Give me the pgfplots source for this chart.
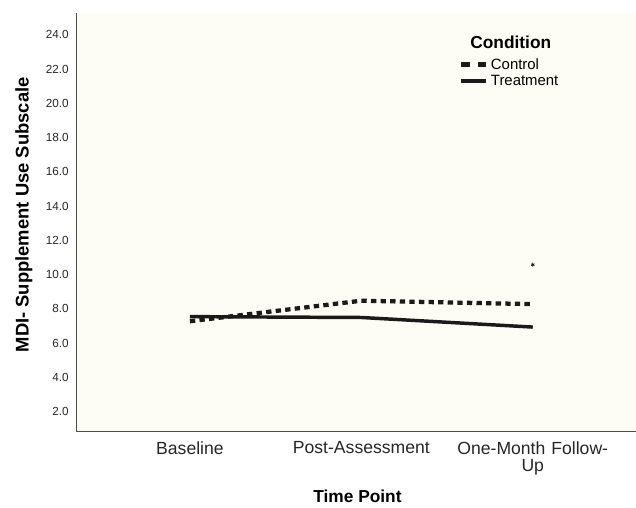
\documentclass[border=0pt]{standalone}
\usepackage{pgfplots}
\pgfplotsset{compat=1.18}
\usepackage{fontspec}
\setmainfont{Liberation Sans}
\definecolor{bgcream}{HTML}{FDFDF5}
\definecolor{ln}{HTML}{1A1A1A}
\begin{document}
\begin{tikzpicture}[x=1pt,y=1pt]
\begin{axis}[
  scale only axis,
  width=420pt, height=314.25pt,
  xmin=-0.665, xmax=2.6,
  ymin=0.83, ymax=25.28,
  axis lines*=left,
  axis line style={draw=black!70, line width=0.6pt},
  axis background/.style={fill=bgcream},
  xtick={0,1,2},
  xticklabels={\vphantom{Ag}Baseline, \vphantom{Ag}Post-Assessment, {\vphantom{Ag}One-Month\hspace{4.5pt}Follow-\\Up}},
  xticklabel style={align=center, anchor=north, font=\fontsize{13.2}{10.8}\selectfont, text=black!85, yshift=-4pt},
  ytick={2,4,...,24},
  yticklabel style={font=\fontsize{8.8}{9}\selectfont, text=black!85, xshift=-2pt},
  /pgf/number format/assume math mode=true,
  yticklabel={\pgfmathprintnumber[fixed,fixed zerofill,precision=1]{\tick}},
  major tick length=0pt,
  tick style={draw=none},
  xlabel={\textbf{Time Point}},
  ylabel={\textbf{MDI- Supplement Use Subscale}},
  every axis x label/.style={at={(rel axis cs:0.503,0)}, anchor=center, yshift=-48.75pt, font=\fontsize{13}{14}\selectfont},
  every axis y label/.style={at={(rel axis cs:0,0.518)}, anchor=center, rotate=90, yshift=39pt, font=\fontsize{13.8}{15}\selectfont},
  clip=false,
  legend style={draw=none, fill=none, at={(rel axis cs:0.684,0.899)}, anchor=north west,
    font=\fontsize{11.2}{11}\selectfont, row sep=-1.2pt, inner sep=0pt,
    /tikz/every odd column/.style={inner sep=0pt}},
  legend cell align=left,
  legend image code/.code={\draw[#1] (0pt,0pt) -- (18.75pt,0pt);},
]
\coordinate (sw) at (rel axis cs:0,0);
\coordinate (ne) at (rel axis cs:1,1);
\addplot[ln, line width=3.2pt, dash pattern=on 4pt off 3.2pt, legend image post style={dash pattern=on 6.4pt off 6pt}] coordinates {(0,7.28) (1,8.48) (2,8.28)};
\addlegendentry{Control}
\addplot[ln, line width=2.6pt] coordinates {(0,7.55) (1,7.50) (2,6.94)};
\addlegendentry{Treatment}
\addplot[only marks, mark=asterisk, mark size=1.5pt, ln, line width=0.5pt, forget plot] coordinates {(2,10.58)};
\node[font=\fontsize{13}{14}\selectfont\bfseries, anchor=center] at (rel axis cs:0.777,0.931) {Condition};
\end{axis}
\path ([xshift=-57pt,yshift=-54pt]sw) rectangle ([yshift=9.75pt]ne);
\end{tikzpicture}
\end{document}
